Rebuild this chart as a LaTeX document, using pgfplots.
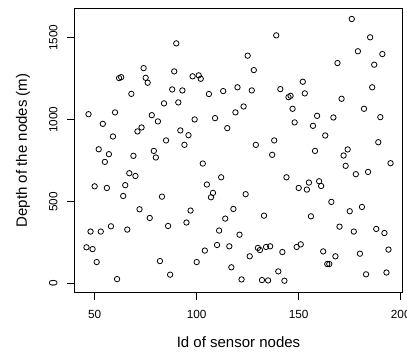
\documentclass[border=0pt]{standalone}
\usepackage{fontspec}
\setmainfont{Liberation Sans}
\usepackage{pgfplots}
\usepackage{pgfplotstable}
\pgfplotsset{compat=1.18}
\pgfplotstableread{
id depth
46 222
47 1034
48 318
49 211
50 594
51 132
52 820
53 318
54 975
55 743
56 584
57 790
58 350
59 898
60 1045
61 28
62 1254
63 1260
64 535
65 601
66 330
67 674
68 1158
69 780
70 657
71 929
72 454
73 953
74 1315
75 1256
76 1226
77 401
78 1028
79 810
80 770
81 990
82 138
83 531
84 1100
85 874
86 352
87 55
88 1185
89 1295
90 1466
91 1106
92 935
93 1179
94 847
95 373
96 906
97 446
98 1265
99 1002
100 132
101 1271
102 1250
103 733
104 202
105 605
106 1157
107 527
108 554
109 1010
110 236
111 324
112 649
113 1175
114 397
115 949
116 228
117 100
118 456
119 1045
120 1198
121 299
122 26
123 1081
124 546
125 1391
126 167
127 1179
128 1303
129 847
130 218
131 205
132 22
133 415
134 224
135 20
136 228
137 786
138 874
139 1515
140 75
141 1187
142 193
143 18
144 649
145 1138
146 1146
147 1067
148 984
149 224
150 584
151 240
152 1232
153 1161
154 574
155 617
156 411
157 963
158 810
159 1024
160 625
161 596
162 197
163 904
164 120
165 120
166 499
167 1014
168 167
169 1346
170 348
171 1128
172 782
173 719
174 819
175 442
176 1615
177 318
178 668
179 1418
180 183
181 468
182 1067
183 57
184 682
185 1503
186 1198
187 1336
188 334
189 863
190 1016
191 1401
192 309
193 68
194 208
195 735
}\depthdata
\begin{document}
\begin{tikzpicture}
\begin{axis}[name=ax,
  scale only axis, width=328.4pt, height=284.4pt,
  xmin=40.04, xmax=200.96, ymin=-55, ymax=1680,
  axis line style={line width=1.5pt},
  tick pos=left, tick align=outside,
  major tick length=7pt,
  every tick/.style={black, line width=0.8pt},
  xtick={50,100,150,200}, ytick={0,500,1000,1500},
  /pgf/number format/assume math mode=true,
  /pgf/number format/set thousands separator={},
  tick label style={font=\fontsize{11.8}{14}\selectfont},
  xticklabel style={anchor=center, yshift=-15pt},
  yticklabel style={xshift=-14pt, rotate=90, anchor=center},
  xlabel={Id of sensor nodes},
  ylabel={Depth of the nodes (m)},
  label style={font=\fontsize{15}{18}\selectfont},
  xlabel style={at={([yshift=-49pt]axis description cs:0.5,0)}, anchor=center},
  ylabel style={at={([xshift=-51.3pt]axis description cs:0,0.5)}, anchor=center, rotate=0},
]
\addplot[only marks, mark=o, mark size=2.7pt, mark options={line width=0.8pt, black}] table[x=id, y=depth] {\depthdata};
\end{axis}
\pgfresetboundingbox
\path ([xshift=-74.3pt,yshift=-61.3pt]ax.south west) rectangle ([xshift=4.3pt,yshift=8.3pt]ax.north east);
\end{tikzpicture}
\end{document}
